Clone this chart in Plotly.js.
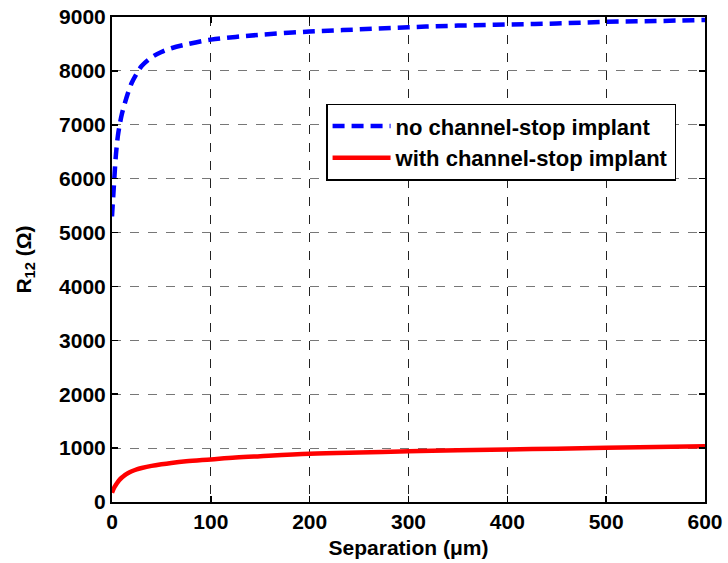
<!DOCTYPE html>
<html>
<head>
<meta charset="utf-8">
<script src="https://cdn.plot.ly/plotly-3.0.1.min.js"></script>
<style>html,body{margin:0;padding:0;background:#fff;}#chart{width:728px;height:563px;}</style>
</head>
<body>
<div id="chart"></div>
<script>
const separation = [0, 2, 4, 6, 8, 10, 13, 16, 20, 25, 30, 40, 50, 60, 75, 100, 125, 150, 200, 250, 300, 350, 400, 450, 500, 550, 600];
const noStop = [5300, 5900, 6450, 6800, 7020, 7200, 7400, 7580, 7780, 7950, 8090, 8250, 8350, 8420, 8490, 8580, 8630, 8670, 8730, 8770, 8810, 8840, 8860, 8880, 8910, 8925, 8945];
const withStop = [170, 260, 320, 375, 420, 455, 500, 535, 570, 605, 630, 670, 700, 725, 755, 790, 825, 850, 895, 920, 940, 960, 975, 990, 1005, 1020, 1035];
const seriesNames = ["no channel-stop implant", "with channel-stop implant"];
const xTicks = [0, 100, 200, 300, 400, 500, 600];
const yTicks = [0, 1000, 2000, 3000, 4000, 5000, 6000, 7000, 8000, 9000];

const fam = "Liberation Sans, Arial, sans-serif";
const boldFont = (s) => ({family: fam, size: s, color: "#000", weight: "bold"});
const traces = [
  {x: separation, y: noStop, name: seriesNames[0], mode: "lines", line: {color: "#0000ff", width: 4.5, dash: "12px,7px", shape: "spline"}},
  {x: separation, y: withStop, name: seriesNames[1], mode: "lines", line: {color: "#ff0000", width: 4.5, shape: "spline"}}
];
const axisCommon = {
  showline: true, linecolor: "#000", linewidth: 2, mirror: "ticks",
  ticks: "inside", ticklen: 6, tickwidth: 1.5, tickcolor: "#000",
  showgrid: true, griddash: "dash", gridwidth: 1,
  zeroline: false, tickfont: boldFont(21)
};
const layout = {
  width: 728, height: 563,
  margin: {l: 112, r: 23, t: 17, b: 61},
  paper_bgcolor: "#fff", plot_bgcolor: "#fff",
  font: {family: fam, size: 20, color: "#000"},
  showlegend: true,
  legend: {
    x: 0.361, y: 0.821, xanchor: "left", yanchor: "top",
    bgcolor: "#fff", bordercolor: "#000", borderwidth: 1.5,
    font: boldFont(22),
    itemwidth: 58, tracegroupgap: 0
  },
  xaxis: Object.assign({}, axisCommon, {
    range: [0, 600], tickvals: xTicks, ticktext: xTicks.map(String), gridcolor: "#222",
    title: {text: "Separation (μm)", font: boldFont(21), standoff: 8}
  }),
  yaxis: Object.assign({}, axisCommon, {
    range: [0, 9000], tickvals: yTicks, ticktext: yTicks.map(String), gridcolor: "#777",
    title: {text: "R<sub>12</sub> (Ω)", font: boldFont(21), standoff: 22}
  })
};
Plotly.newPlot("chart", traces, layout, {displayModeBar: false, staticPlot: true});
</script>
</body>
</html>
